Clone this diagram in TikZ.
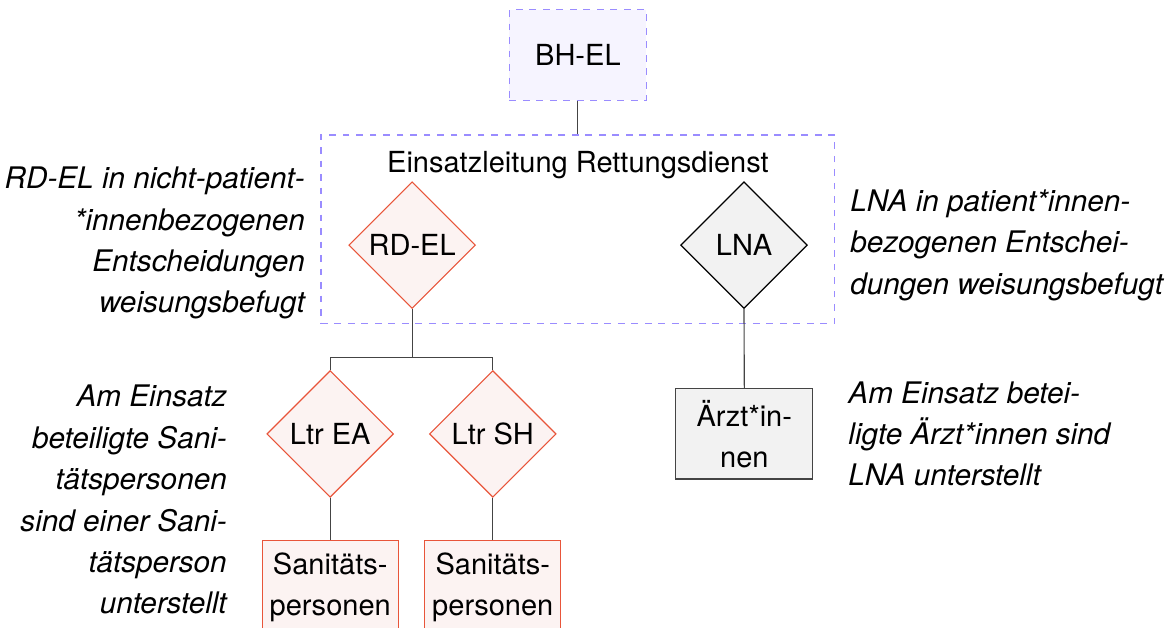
\documentclass[tikz,border=0pt]{standalone}
\usepackage{fontspec}
\setmainfont{TeX Gyre Heros}
\usepackage{xcolor}
\usepackage{tikz}
\usetikzlibrary{shapes.geometric, positioning}
\definecolor{lilaline}{HTML}{9A8CFF}
\definecolor{lilafill}{HTML}{F6F4FF}
\definecolor{rotline}{HTML}{E8553A}
\definecolor{rotfill}{HTML}{FCF3F2}
\definecolor{grayfill}{HTML}{F2F2F2}
\definecolor{linegray}{HTML}{444444}
\tikzstyle{line} = [draw=linegray, line width=0.5pt]
\tikzstyle{leitung} = [rectangle, draw=lilaline, fill=lilafill, dash pattern=on 3pt off 3pt, line width=0.5pt, minimum width=2.14cm, minimum height=1.41cm]
\tikzstyle{bereich} = [rectangle, draw=lilaline, dash pattern=on 3pt off 3pt, line width=0.5pt, minimum width=8.03cm, minimum height=2.94cm]
\tikzstyle{rdraute} = [diamond, draw=rotline, fill=rotfill, line width=0.5pt, minimum width=1.98cm, minimum height=1.98cm, inner sep=0pt]
\tikzstyle{graute} = [diamond, draw=black, fill=grayfill, line width=0.5pt, minimum width=1.98cm, minimum height=1.98cm, inner sep=0pt]
\tikzstyle{rbox} = [rectangle, draw=rotline, fill=rotfill, line width=0.5pt, minimum width=2.125cm, minimum height=1.45cm, align=center, inner sep=0pt]
\tikzstyle{gbox} = [rectangle, draw=linegray, fill=grayfill, line width=0.5pt, minimum width=2.14cm, minimum height=1.41cm, align=center, inner sep=0pt]
\tikzstyle{notiz} = [font=\fontsize{13.2}{18.4}\selectfont\itshape, inner sep=0pt]

\begin{document}
\begin{tikzpicture}[font=\fontsize{12.9}{18.2}\selectfont]
\useasboundingbox (0,0) rectangle (18.375,-9.8125);

% Leitung oben
\node (bhel) [leitung] at (9.03,-0.86) {BH-EL};

% Einsatzleitung Rettungsdienst
\node (elrd) [bereich] at (9.03,-3.58) {};
\node (elrdtitel) [inner sep=0pt] at (9.03,-2.58) {Einsatzleitung Rettungsdienst};
\node (rdel) [rdraute] at (6.44,-3.83) {RD-EL};
\node (lna) [graute] at (11.625,-3.83) {LNA};

% Untere Ebene
\node (ltrea) [rdraute] at (5.16,-6.78) {Ltr EA};
\node (ltrsh) [rdraute] at (7.70,-6.78) {Ltr SH};
\node (sanea) [rbox, anchor=north] at (5.16,-8.44) {Sanitäts-\\personen};
\node (sansh) [rbox, anchor=north] at (7.70,-8.44) {Sanitäts-\\personen};
\node (aerzte) [gbox] at (11.63,-6.78) {Ärzt*in-\\nen};

% Anmerkungen
\node (notizrd) [notiz, anchor=east, align=right] at (4.77,-3.80) {RD-EL in nicht-patient-\\*innenbezogenen\\Entscheidungen\\weisungsbefugt};
\node (notizlna) [notiz, anchor=west, align=left] at (13.28,-3.83) {LNA in patient*innen-\\bezogenen Entschei-\\dungen weisungsbefugt};
\node (notizsan) [notiz, anchor=east, align=right] at (3.55,-7.81) {Am Einsatz\\beteiligte Sani-\\tätspersonen\\sind einer Sani-\\tätsperson\\unterstellt};
\node (notizarzt) [notiz, anchor=west, align=left] at (13.25,-6.78) {Am Einsatz betei-\\ligte Ärzt*innen sind\\LNA unterstellt};

% Verbindungen
\coordinate (split) at (6.44,-5.59);
\draw [line] (bhel.south) -- (elrd.north);
\draw [line] (rdel.south) -- (split);
\draw [line] (ltrea.north) |- (split) -| (ltrsh.north);
\draw [line] (ltrea.south) -- (sanea.north);
\draw [line] (ltrsh.south) -- (sansh.north);
\draw [line] (lna.south) -- (aerzte.north);

\end{tikzpicture}
\end{document}
